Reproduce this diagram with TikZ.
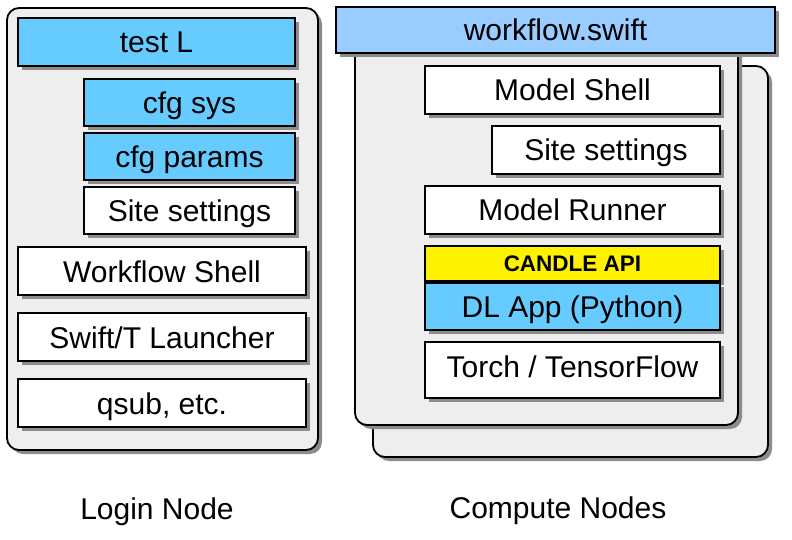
\documentclass[tikz,border=0pt]{standalone}
\usepackage{fontspec}
\setmainfont{Liberation Sans}
\usepackage{tikz}
\usetikzlibrary{shadows}
\definecolor{layerblue}{HTML}{66CCFF}
\definecolor{wfblue}{HTML}{99CCFF}
\definecolor{panelgray}{HTML}{EEEEEE}
\tikzset{
  shade/.style={drop shadow={shadow xshift=4pt,shadow yshift=-4pt,fill=black!45,opacity=1}},
  layer/.style={rectangle,draw=black,line width=1.8pt,shade,inner sep=0pt,
    font=\fontsize{30}{34}\selectfont,text height=22pt,text depth=0pt,minimum height=48pt},
  whitelayer/.style={layer,fill=white},
  bluelayer/.style={layer,fill=layerblue},
  panel/.style={rectangle,rounded corners=12pt,draw=black,line width=1.8pt,fill=panelgray,shade,inner sep=0pt},
  caption/.style={font=\fontsize{30}{34}\selectfont,inner sep=0pt,text height=22pt,text depth=0pt}
}

\begin{document}
\begin{tikzpicture}[x=1pt,y=-1pt]
    \useasboundingbox (0,0) rectangle (792,540);

    % login side
    \node[panel,minimum width=311pt,minimum height=442pt] (login) at (162.5,229) {};
    \node[bluelayer,minimum width=277pt] (testl) at (156.5,42) {test L};
    \node[bluelayer,minimum width=211pt,minimum height=47pt] (cfgsys) at (189.5,102.5) {cfg sys};
    \node[bluelayer,minimum width=211pt,minimum height=47pt] (cfgparams) at (189.5,156.5) {cfg params};
    \node[whitelayer,minimum width=211pt,minimum height=47pt] (sitel) at (189.5,210.5) {Site settings};
    \node[whitelayer,minimum width=288pt] (wfshell) at (162,271) {Workflow Shell};
    \node[whitelayer,minimum width=288pt] (launcher) at (162,337) {Swift/T Launcher};
    \node[whitelayer,minimum width=288pt] (qsub) at (162,403) {qsub, etc.};

    % compute side
    \node[panel,minimum width=395pt,minimum height=391pt] (backnode) at (570.5,261.5) {};
    \node[panel,minimum width=383pt,minimum height=385pt] (frontnode) at (546.5,232.5) {};
    \node[layer,fill=wfblue,minimum width=439pt,minimum height=46pt] (workflow) at (555.5,30) {workflow.swift};
    \node[whitelayer,minimum width=295pt] (modelshell) at (572.5,90) {Model Shell};
    \node[whitelayer,minimum width=228pt] (siter) at (606,150) {Site settings};
    \node[whitelayer,minimum width=295pt] (runner) at (572.5,210) {Model Runner};
    \node[layer,fill=yellow,minimum width=295pt,minimum height=35pt,
      font=\fontsize{22.5}{26}\selectfont\bfseries,text height=16pt] (candle) at (572.5,263.5) {CANDLE API};
    \node[bluelayer,minimum width=295pt,minimum height=47pt] (dlapp) at (572.5,306.5) {DL App (Python)};
    \node[whitelayer,minimum width=295pt,minimum height=56pt,text depth=8pt] (torch) at (572.5,370) {Torch / TensorFlow};

    \node[caption] (logincap) at (157,508) {Login Node};
    \node[caption] (computecap) at (558,507) {Compute Nodes};
\end{tikzpicture}
\end{document}
